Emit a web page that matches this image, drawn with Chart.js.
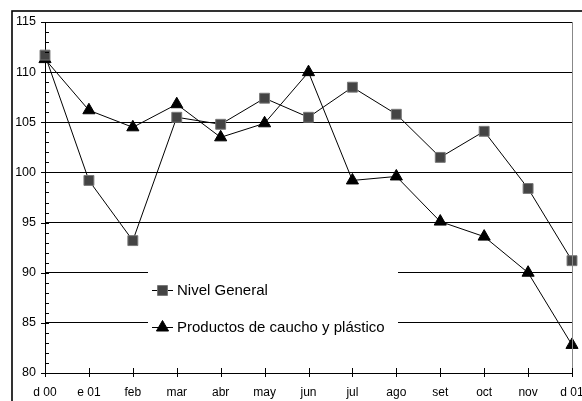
<!DOCTYPE html>
<html>
<head>
<meta charset="utf-8">
<script src="https://cdn.jsdelivr.net/npm/chart.js@4/dist/chart.umd.min.js"></script>
<style>
  html, body { margin: 0; padding: 0; background: #fff; }
  #wrap { width: 582px; height: 401px; position: relative; }
</style>
</head>
<body>
<div id="wrap"><canvas id="c" width="582" height="401"></canvas></div>
<script>
// Monthly index, Dec 2000 to Dec 2001
const months = ['d 00', 'e 01', 'feb', 'mar', 'abr', 'may', 'jun', 'jul', 'ago', 'set', 'oct', 'nov', 'd 01'];
const nivelGeneral = [111.7, 99.2, 93.2, 105.5, 104.8, 107.4, 105.5, 108.5, 105.8, 101.5, 104.1, 98.4, 91.2];
const cauchoPlastico = [111.3, 106.2, 104.5, 106.8, 103.5, 104.9, 110.0, 99.2, 99.6, 95.1, 93.6, 90.0, 82.8];
const yTicks = [80, 85, 90, 95, 100, 105, 110, 115];

const FONT = 'Liberation Sans, Arial, sans-serif';

// Frame, axis tick marks and the in-plot legend
const decorations = {
  id: 'decorations',
  beforeDraw(chart) {
    const ctx = chart.ctx;
    ctx.save();
    ctx.fillStyle = '#fff';
    ctx.fillRect(0, 0, chart.width, chart.height);
    ctx.strokeStyle = '#000';
    ctx.lineWidth = 1.6;
    ctx.strokeRect(12, 11, 800, 600);
    ctx.restore();
  },
  afterDatasetsDraw(chart) {
    const ctx = chart.ctx;
    const a = chart.chartArea;
    const x = chart.scales.x, y = chart.scales.y;
    ctx.save();
    // right edge of the plot
    ctx.strokeStyle = '#888';
    ctx.lineWidth = 1;
    ctx.beginPath();
    ctx.moveTo(Math.round(a.right) + 0.5, a.top);
    ctx.lineTo(Math.round(a.right) + 0.5, a.bottom);
    ctx.stroke();

    ctx.strokeStyle = '#000';
    ctx.beginPath();
    // y axis: major ticks outward, minor ticks inward every unit
    for (let v = y.min; v <= y.max; v++) {
      const py = Math.round(y.getPixelForValue(v)) + 0.5;
      if (v % 5 === 0) {
        ctx.moveTo(a.left - 4, py);
        ctx.lineTo(a.left + 4, py);
      } else {
        ctx.moveTo(a.left, py);
        ctx.lineTo(a.left + 4, py);
      }
    }
    // x axis: crossing ticks on each month
    months.forEach((m, i) => {
      const px = Math.round(x.getPixelForValue(i)) + 0.5;
      ctx.moveTo(px, a.bottom - 5);
      ctx.lineTo(px, a.bottom + 4);
    });
    ctx.stroke();

    // legend box
    const lx = 148, ly = 268, lw = 250, lh = 74;
    ctx.fillStyle = '#fff';
    ctx.fillRect(lx, ly, lw, lh);
    const rows = [290, 327];
    chart.data.datasets.forEach((ds, i) => {
      const cy = rows[i];
      ctx.strokeStyle = '#000';
      ctx.lineWidth = 1;
      ctx.beginPath();
      ctx.moveTo(152, cy + 0.5);
      ctx.lineTo(173, cy + 0.5);
      ctx.stroke();
      ctx.fillStyle = ds.pointBackgroundColor;
      ctx.strokeStyle = ds.pointBorderColor;
      ctx.lineWidth = ds.pointBorderWidth;
      Chart.helpers.drawPoint(ctx, {
        pointStyle: ds.pointStyle,
        rotation: 0,
        radius: ds.pointRadius,
        borderWidth: ds.pointBorderWidth
      }, 162.5, cy + 0.5);
      ctx.fillStyle = '#000';
      ctx.font = '15px ' + FONT;
      ctx.textBaseline = 'middle';
      ctx.textAlign = 'left';
      ctx.fillText(ds.label, 177, cy + 1);
    });
    ctx.restore();
  }
};

new Chart(document.getElementById('c'), {
  type: 'line',
  data: {
    labels: months,
    datasets: [
      {
        label: 'Nivel General',
        data: nivelGeneral,
        borderColor: '#000',
        borderWidth: 1,
        pointStyle: 'rect',
        pointRadius: 7,
        pointBackgroundColor: '#444',
        pointBorderColor: '#777',
        pointBorderWidth: 1,
        tension: 0
      },
      {
        label: 'Productos de caucho y plástico',
        data: cauchoPlastico,
        borderColor: '#000',
        borderWidth: 1,
        pointStyle: 'triangle',
        pointRadius: 7,
        pointBackgroundColor: '#000',
        pointBorderColor: '#000',
        pointBorderWidth: 1,
        tension: 0
      }
    ]
  },
  options: {
    responsive: false,
    animation: false,
    layout: { padding: { left: 0, top: 22, right: 10, bottom: 0 } },
    plugins: { legend: { display: false }, tooltip: { enabled: false } },
    scales: {
      x: {
        offset: false,
        grid: { display: false, drawTicks: false },
        border: { display: true, color: '#000', width: 1 },
        ticks: { color: '#000', font: { family: FONT, size: 12 }, padding: 12, maxRotation: 0, autoSkip: false },
        afterFit(s) { s.height = 28; s.paddingLeft = 0; s.paddingRight = 0; }
      },
      y: {
        min: 80,
        max: 115,
        afterBuildTicks(s) { s.ticks = yTicks.map(v => ({ value: v })); },
        grid: { color: '#000', lineWidth: 1, drawTicks: false },
        border: { display: true, color: '#000', width: 1 },
        ticks: { color: '#000', font: { family: FONT, size: 12.5 }, padding: 9 },
        afterFit(s) { s.width = 45; s.paddingTop = 0; s.paddingBottom = 0; }
      }
    }
  },
  plugins: [decorations]
});
</script>
</body>
</html>
